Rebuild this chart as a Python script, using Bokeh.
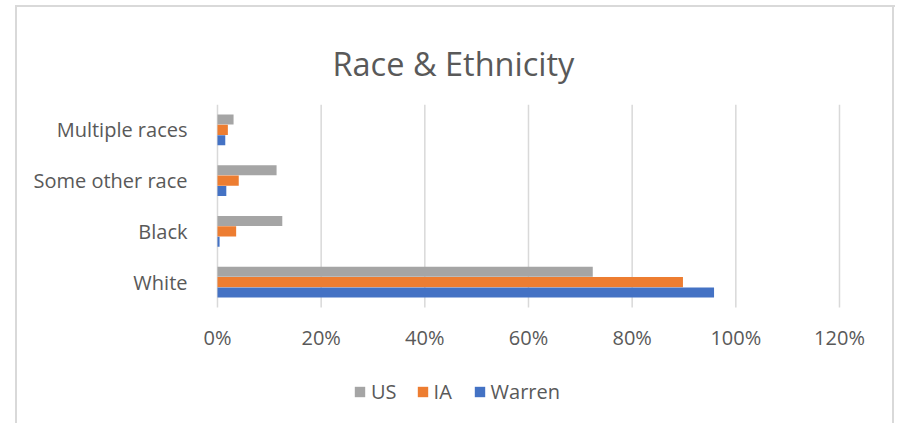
from bokeh.plotting import figure
from bokeh.models import (Range1d, Legend, LegendItem, FixedTicker, ColumnDataSource, Title)
from bokeh.transform import dodge
from bokeh.embed import file_html
from bokeh.resources import INLINE

categories = ["White", "Black", "Some other race", "Multiple races"]
us = [0.724, 0.125, 0.114, 0.031]
ia = [0.898, 0.036, 0.041, 0.020]
warren = [0.958, 0.004, 0.017, 0.015]
x_ticks = [0, 0.2, 0.4, 0.6, 0.8, 1.0, 1.2]
x_tick_labels = ["0%", "20%", "40%", "60%", "80%", "100%", "120%"]
series = ["US", "IA", "Warren"]
colors = ["#A5A5A5", "#ED7D31", "#4472C4"]
title_text = "Race & Ethnicity"

FONT = "Open Sans"
TXT = "#595959"
EDGE = "#D9D9D9"

n = len(categories)
pos = list(range(n))
source = ColumnDataSource(dict(pos=pos, cat=categories, US=us, IA=ia, Warren=warren))

# chart band spans -0.5 .. n-0.5; extra room below holds tick labels and legend,
# a little room left/right keeps the edge tick labels unclipped
chart_lo, chart_hi = -0.5, n - 0.5
p = figure(width=902, height=423, output_backend="svg", toolbar_location=None,
           x_range=Range1d(x_ticks[0] - 0.027, x_ticks[-1] + 0.0579),
           y_range=Range1d(-2.786, chart_hi),
           x_axis_location=None,
           min_border_left=203, min_border_right=33,
           min_border_top=104, min_border_bottom=0)
p.outline_line_color = None
p.border_fill_alpha = 0
p.background_fill_color = "white"
p.grid.visible = False
g = f"linear-gradient({EDGE},{EDGE})"
p.styles = {
    "background-color": "white",
    "background-image": f"{g}, {g}, {g}",
    "background-size": "2px 100%, 2px 100%, 880px 2px",
    "background-position": "15px 5px, 892px 5px, 15px 5px",
    "background-repeat": "no-repeat",
}

p.title = Title(text=title_text, align="left", offset=129, vertical_align="middle",
                text_font=FONT, text_font_size="32.5px", text_color=TXT,
                text_font_style="normal", standoff=36)

# vertical gridlines at the x ticks, across the chart band only
p.segment(x0=x_ticks, x1=x_ticks, y0=[chart_lo] * len(x_ticks), y1=[chart_hi] * len(x_ticks),
          line_color=EDGE, line_width=1.5)

offsets = [0.205, 0.0, -0.205]
renderers = []
for name, color, off in zip(series, colors, offsets):
    r = p.hbar(y=dodge("pos", off), right=name, left=0,
               height=0.2, source=source, fill_color=color, line_color=None)
    renderers.append(r)

# x tick labels under the chart band
p.text(x=x_ticks, y=[chart_lo] * len(x_ticks), text=x_tick_labels,
       text_align="center", text_baseline="alphabetic", y_offset=30,
       text_font={"value": FONT}, text_font_size="20px", text_color=TXT)

yax = p.yaxis[0]
yax.ticker = FixedTicker(ticks=pos)
yax.major_label_overrides = {i: c for i, c in zip(pos, categories)}
yax.axis_line_color = None
yax.major_tick_line_color = None
yax.minor_tick_line_color = None
yax.major_label_text_font = FONT
yax.major_label_text_font_size = "20px"
yax.major_label_text_color = TXT
yax.major_label_standoff = 10

legend = Legend(items=[LegendItem(label=s, renderers=[r]) for s, r in zip(series, renderers)],
                orientation="horizontal", location=(150, 18),
                glyph_width=13, glyph_height=13, label_standoff=5, spacing=19,
                padding=0, margin=0, border_line_color=None, background_fill_alpha=0,
                label_text_font=FONT, label_text_font_size="20px", label_text_color=TXT)
p.add_layout(legend)

open("out.html", "w").write(file_html(p, INLINE))
